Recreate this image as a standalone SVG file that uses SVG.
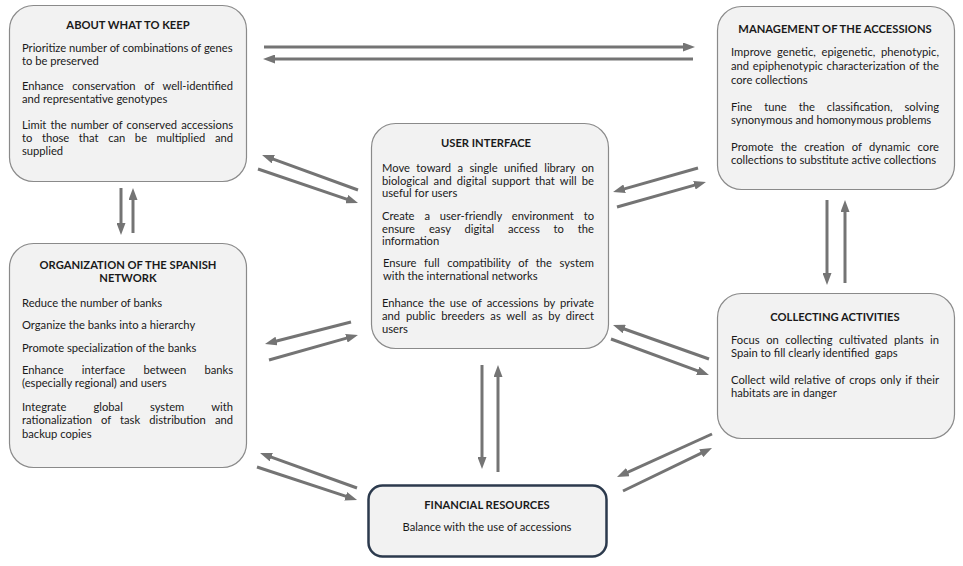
<svg xmlns="http://www.w3.org/2000/svg" width="963" height="566" viewBox="0 0 963 566">
<style>
.box{fill:#f2f2f2;stroke:#8a8a8a;stroke-width:1.2}
.fin{fill:#f2f2f2;stroke:#2c3a4d;stroke-width:2.5}
.t{font-family:Lato,"Liberation Sans",sans-serif;font-size:11.2px;fill:#1a1a1a}
.h{font-family:Lato,"Liberation Sans",sans-serif;font-size:11.2px;font-weight:bold;fill:#1a1a1a;text-anchor:middle}
.c{text-anchor:middle}
.a{stroke:#747474;stroke-width:3;fill:none;marker-end:url(#ah)}
</style>
<defs>
<marker id="ah" markerUnits="userSpaceOnUse" markerWidth="12" markerHeight="9" refX="3" refY="4.5" orient="auto">
<path d="M0,0 L12,4.5 L0,9 z" fill="#747474"/>
</marker>
</defs>
<rect width="963" height="566" fill="#ffffff"/>

<g id="node-keep">
<rect class="box" x="9.5" y="5.5" width="237" height="176" rx="24"/>
<text class="h" x="128" y="29">ABOUT WHAT TO KEEP</text>
<text class="t" x="22" y="52">Prioritize number of combinations of genes</text>
<text class="t" x="22" y="65">to be preserved</text>
<text class="t" x="22" y="90" word-spacing="5.7" textLength="211" lengthAdjust="spacing">Enhance conservation of well-identified</text>
<text class="t" x="22" y="103">and representative genotypes</text>
<text class="t" x="22" y="129" word-spacing="1.2" textLength="211" lengthAdjust="spacing">Limit the number of conserved accessions</text>
<text class="t" x="22" y="142" word-spacing="6.7" textLength="211" lengthAdjust="spacing">to those that can be multiplied and</text>
<text class="t" x="22" y="155">supplied</text>
</g>

<g id="node-management">
<rect class="box" x="717.5" y="6.5" width="237" height="183" rx="24"/>
<text class="h" x="835" y="33">MANAGEMENT OF THE ACCESSIONS</text>
<text class="t" x="731" y="56" word-spacing="2.7" textLength="208" lengthAdjust="spacing">Improve genetic, epigenetic, phenotypic,</text>
<text class="t" x="731" y="70" word-spacing="0.75" textLength="208" lengthAdjust="spacing">and epiphenotypic characterization of the</text>
<text class="t" x="731" y="84">core collections</text>
<text class="t" x="731" y="111" word-spacing="9" textLength="208" lengthAdjust="spacing">Fine tune the classification, solving</text>
<text class="t" x="731" y="124">synonymous and homonymous problems</text>
<text class="t" x="731" y="151" word-spacing="4.2" textLength="208" lengthAdjust="spacing">Promote the creation of dynamic core</text>
<text class="t" x="731" y="164">collections to substitute active collections</text>
</g>

<g id="node-user">
<rect class="box" x="371.5" y="123.5" width="237" height="225" rx="24"/>
<text class="h" x="486" y="147">USER INTERFACE</text>
<text class="t" x="382" y="172" word-spacing="3.5" textLength="212" lengthAdjust="spacing">Move toward a single unified library on</text>
<text class="t" x="382" y="185" word-spacing="2.3" textLength="212" lengthAdjust="spacing">biological and digital support that will be</text>
<text class="t" x="382" y="197">useful for users</text>
<text class="t" x="382" y="220" word-spacing="7" textLength="212" lengthAdjust="spacing">Create a user-friendly environment to</text>
<text class="t" x="382" y="233" word-spacing="11" textLength="212" lengthAdjust="spacing">ensure easy digital access to the</text>
<text class="t" x="382" y="245">information</text>
<text class="t" x="383" y="267" word-spacing="4.8" textLength="211" lengthAdjust="spacing">Ensure full compatibility of the system</text>
<text class="t" x="383" y="280">with the international networks</text>
<text class="t" x="382" y="307" word-spacing="2.2" textLength="212" lengthAdjust="spacing">Enhance the use of accessions by private</text>
<text class="t" x="382" y="320" word-spacing="2.9" textLength="212" lengthAdjust="spacing">and public breeders as well as by direct</text>
<text class="t" x="382" y="333">users</text>
</g>

<g id="node-organization">
<rect class="box" x="9.5" y="243.5" width="237" height="224" rx="24"/>
<text class="h" x="128" y="269">ORGANIZATION OF THE SPANISH</text>
<text class="h" x="128" y="282">NETWORK</text>
<text class="t" x="22" y="307">Reduce the number of banks</text>
<text class="t" x="22" y="329">Organize the banks into a hierarchy</text>
<text class="t" x="22" y="352">Promote specialization of the banks</text>
<text class="t" x="22" y="374" word-spacing="15.3" textLength="211" lengthAdjust="spacing">Enhance interface between banks</text>
<text class="t" x="22" y="387">(especially regional) and users</text>
<text class="t" x="22" y="411" word-spacing="24.3" textLength="211" lengthAdjust="spacing">Integrate global system with</text>
<text class="t" x="22" y="424" word-spacing="6.2" textLength="211" lengthAdjust="spacing">rationalization of task distribution and</text>
<text class="t" x="22" y="438">backup copies</text>
</g>

<g id="node-collecting">
<rect class="box" x="717.5" y="293.5" width="237" height="145" rx="24"/>
<text class="h" x="835" y="321">COLLECTING ACTIVITIES</text>
<text class="t" x="731" y="344" word-spacing="3.6" textLength="208" lengthAdjust="spacing">Focus on collecting cultivated plants in</text>
<text class="t" x="731" y="357" xml:space="preserve">Spain to fill clearly identified  gaps</text>
<text class="t" x="731" y="384" word-spacing="1.4" textLength="208" lengthAdjust="spacing">Collect wild relative of crops only if their</text>
<text class="t" x="731" y="397">habitats are in danger</text>
</g>

<g id="node-financial">
<rect class="fin" x="368.5" y="485.5" width="238" height="71" rx="14"/>
<text class="h" x="487" y="509">FINANCIAL RESOURCES</text>
<text class="t c" x="487" y="531">Balance with the use of accessions</text>
</g>

<g id="connectors">
<line class="a" x1="264" y1="47" x2="686" y2="47"/>
<line class="a" x1="693" y1="59" x2="272" y2="59"/>
<line class="a" x1="121" y1="188" x2="121" y2="226"/>
<line class="a" x1="133" y1="233" x2="133" y2="197"/>
<line class="a" x1="358" y1="190" x2="270.5" y2="158.1"/>
<line class="a" x1="258" y1="169" x2="349.5" y2="200.1"/>
<line class="a" x1="698" y1="168" x2="621.7" y2="189.6"/>
<line class="a" x1="617" y1="207" x2="697.3" y2="184.4"/>
<line class="a" x1="827" y1="200" x2="827" y2="276"/>
<line class="a" x1="845" y1="283" x2="845" y2="209"/>
<line class="a" x1="351" y1="322" x2="273.7" y2="341.8"/>
<line class="a" x1="269" y1="360" x2="349.3" y2="337.4"/>
<line class="a" x1="709" y1="359" x2="621.5" y2="328"/>
<line class="a" x1="611" y1="339" x2="700.5" y2="371.9"/>
<line class="a" x1="482" y1="365" x2="482" y2="460"/>
<line class="a" x1="498" y1="472" x2="498" y2="374"/>
<line class="a" x1="357" y1="488" x2="268.5" y2="456.1"/>
<line class="a" x1="257" y1="467" x2="348.5" y2="497.2"/>
<line class="a" x1="712" y1="434" x2="625.2" y2="473.3"/>
<line class="a" x1="623" y1="491" x2="703.9" y2="451.9"/>
</g>
</svg>
